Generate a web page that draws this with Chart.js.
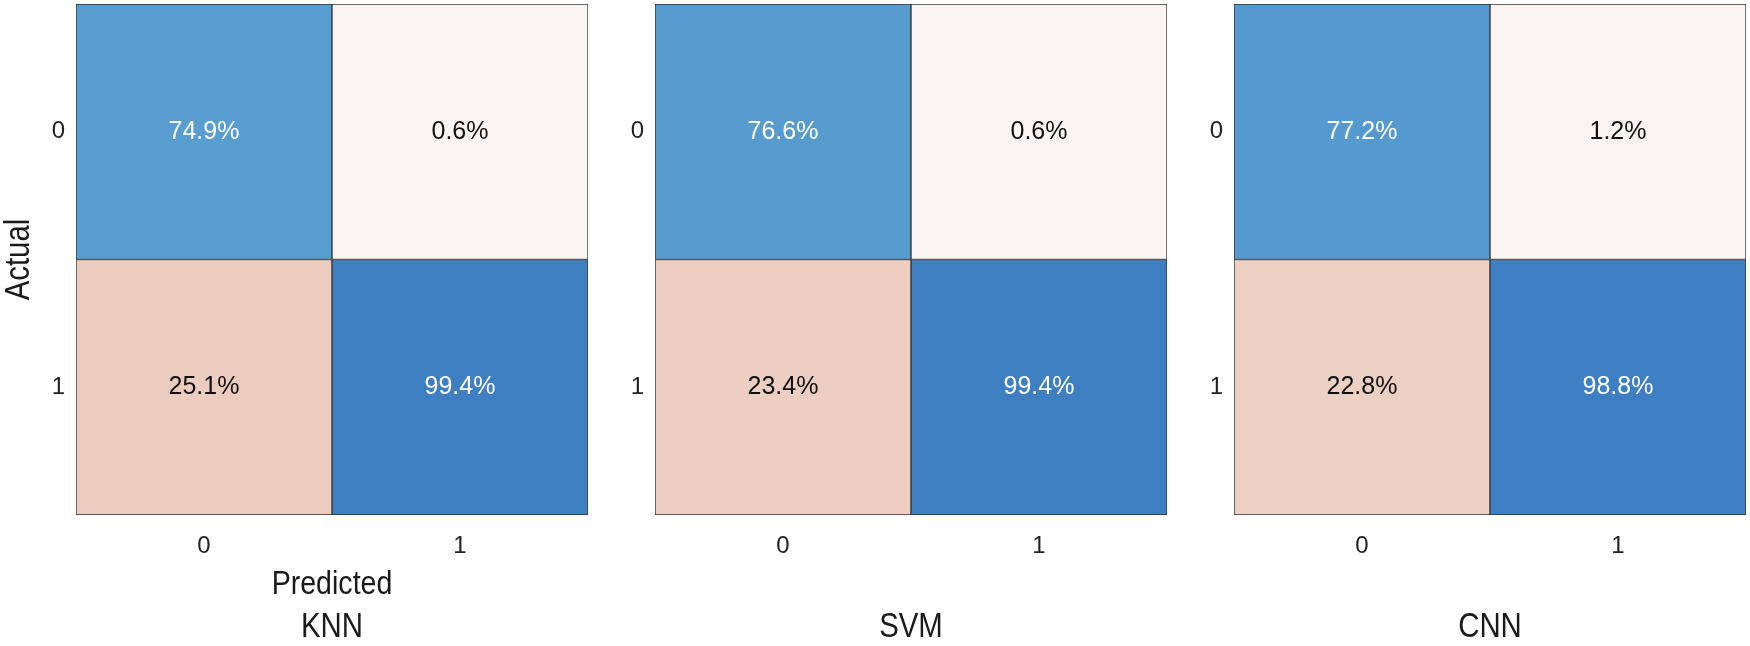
<!DOCTYPE html>
<html>
<head>
<meta charset="utf-8">
<script src="https://cdn.jsdelivr.net/npm/chart.js@4.4.1/dist/chart.umd.min.js"></script>
<style>
  html, body { margin: 0; padding: 0; background: #fff; overflow: hidden; }
  #wrap { position: relative; width: 1750px; height: 646px; }
  #wrap canvas { position: absolute; top: 0; }
</style>
</head>
<body>
<div id="wrap">
  <canvas id="knn" width="598" height="646" style="left:0px"></canvas>
  <canvas id="svm" width="598" height="646" style="left:579px"></canvas>
  <canvas id="cnn" width="598" height="646" style="left:1158px"></canvas>
</div>
<script>
// confusion matrix values, rows = actual class, cols = predicted class (percent)
const predictedLabels = ['0', '1'];
const actualLabels = ['0', '1'];
const modelNames = ['KNN', 'SVM', 'CNN'];
const knnValues = [[74.9, 0.6], [25.1, 99.4]];
const svmValues = [[76.6, 0.6], [23.4, 99.4]];
const cnnValues = [[77.2, 1.2], [22.8, 98.8]];

// colour stops (percent -> rgb)
const colorStops = [
  [0, [250, 245, 243]],
  [25, [235, 204, 191]],
  [75, [87, 157, 207]],
  [100, [61, 126, 194]]
];

function cellColor(v) {
  for (let i = 1; i < colorStops.length; i++) {
    const [v0, c0] = colorStops[i - 1];
    const [v1, c1] = colorStops[i];
    if (v <= v1 || i === colorStops.length - 1) {
      const t = Math.max(0, Math.min(1, (v - v0) / (v1 - v0)));
      const c = c0.map((a, k) => Math.round(a + (c1[k] - a) * t));
      return 'rgb(' + c.join(',') + ')';
    }
  }
}

const plainFont = "'Liberation Sans', Arial, sans-serif";

// writes the percentage in the middle of each cell
const cellLabels = {
  id: 'cellLabels',
  afterDatasetsDraw(chart) {
    const ctx = chart.ctx;
    ctx.save();
    ctx.font = '25px ' + plainFont;
    ctx.textAlign = 'center';
    ctx.textBaseline = 'middle';
    chart.data.datasets.forEach((ds, i) => {
      chart.getDatasetMeta(i).data.forEach((bar, j) => {
        const v = ds.data[j].v;
        const p = bar.getProps(['x', 'y', 'base'], true);
        ctx.fillStyle = v > 50 ? '#ffffff' : '#111111';
        ctx.fillText(v.toFixed(1) + '%', p.x, (p.y + p.base) / 2);
      });
    });
    ctx.restore();
  }
};

// the titles in the picture use a narrow face, so squeeze them a bit
function condensedText(ctx, text, x, y, rot) {
  ctx.save();
  ctx.translate(x, y);
  if (rot) ctx.rotate(rot);
  ctx.scale(0.84, 1);
  ctx.fillText(text, 0, 0);
  ctx.restore();
}

const panelText = {
  id: 'panelText',
  afterDraw(chart, args, opts) {
    const { ctx, chartArea } = chart;
    const cx = (chartArea.left + chartArea.right) / 2;
    const cy = (chartArea.top + chartArea.bottom) / 2;
    ctx.save();
    ctx.fillStyle = '#1a1a1a';
    ctx.textAlign = 'center';
    ctx.textBaseline = 'alphabetic';
    ctx.font = '35px ' + plainFont;
    condensedText(ctx, opts.name, cx, 637);
    if (opts.axisTitles) {
      condensedText(ctx, 'Actual', 29, cy, -Math.PI / 2);
      ctx.font = '34px ' + plainFont;
      condensedText(ctx, 'Predicted', cx, 594);
    }
    ctx.restore();
  }
};

function makeMatrix(id, values, name, withAxisTitles) {
  const datasets = actualLabels.map((a, r) => ({
    label: 'Actual ' + a,
    data: predictedLabels.map((p, c) => ({
      x: p,
      y: [actualLabels.length - 1 - r, actualLabels.length - r],
      v: values[r][c]
    })),
    backgroundColor: values[r].map(cellColor),
    borderColor: '#333333',
    borderWidth: 1,
    borderSkipped: false,
    grouped: false,
    categoryPercentage: 1,
    barPercentage: 1
  }));

  new Chart(document.getElementById(id), {
    type: 'bar',
    data: { labels: predictedLabels, datasets: datasets },
    plugins: [cellLabels, panelText],
    options: {
      responsive: false,
      animation: false,
      devicePixelRatio: 1,
      layout: { padding: { top: 4, right: 10, left: 0, bottom: 0 } },
      plugins: {
        legend: { display: false },
        tooltip: { enabled: false },
        panelText: { name: name, axisTitles: withAxisTitles }
      },
      scales: {
        x: {
          type: 'category',
          grid: { display: false, drawTicks: false },
          border: { display: false },
          ticks: { color: '#222', font: { family: plainFont, size: 24 }, padding: 17 },
          afterFit(scale) {
            scale.height = 131;
          }
        },
        y: {
          type: 'linear',
          min: 0,
          max: actualLabels.length,
          grid: { display: false, drawTicks: false },
          border: { display: false },
          afterBuildTicks(scale) {
            scale.ticks = actualLabels.map((a, r) => ({ value: actualLabels.length - r - 0.5 }));
          },
          ticks: {
            color: '#222',
            font: { family: plainFont, size: 24 },
            padding: 11,
            callback: (val) => actualLabels[actualLabels.length - 1 - Math.floor(val)]
          },
          afterFit(scale) {
            scale.width = 76;
            scale.paddingTop = 0;
            scale.paddingBottom = 0;
          }
        }
      }
    }
  });
}

makeMatrix('knn', knnValues, modelNames[0], true);
makeMatrix('svm', svmValues, modelNames[1], false);
makeMatrix('cnn', cnnValues, modelNames[2], false);
</script>
</body>
</html>
